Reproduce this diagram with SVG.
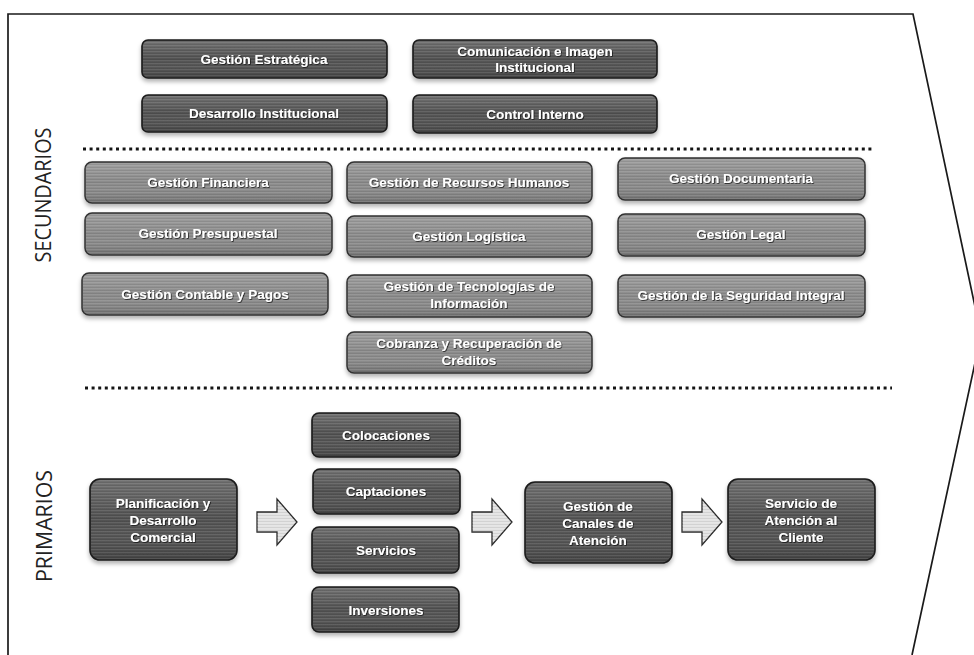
<svg xmlns="http://www.w3.org/2000/svg" width="974" height="655" viewBox="0 0 974 655">
<style>
.bd{fill:#525252;stroke:#1c1c1c;stroke-width:1.6}
.bm{fill:#8b8b8b;stroke:#333;stroke-width:1.5}
.gl{fill:url(#gl);stroke:none}
.tex{fill:url(#tex);stroke:none}
.tx{font-family:"Liberation Sans",Arial,sans-serif;font-weight:bold;font-size:13.5px;fill:#fff;text-anchor:middle;filter:url(#ts)}
.lab{font-family:"Open Sans","Noto Sans",sans-serif;font-size:21px;fill:#222;text-anchor:middle}
.dot{stroke:#151515;stroke-width:3;stroke-dasharray:3 3.6;fill:none}
.frame{fill:none;stroke:#1a1a1a;stroke-width:1.7}
.arr{fill:#e4e4e4;stroke:#2a2a2a;stroke-width:1.3}
.sh{filter:url(#ds)}
</style>
<defs>
<linearGradient id="gl" x1="0" y1="0" x2="0" y2="1">
<stop offset="0" stop-color="#fff" stop-opacity="0.18"/>
<stop offset="0.5" stop-color="#fff" stop-opacity="0"/>
<stop offset="1" stop-color="#000" stop-opacity="0.18"/>
</linearGradient>
<pattern id="tex" patternUnits="userSpaceOnUse" width="6" height="3">
<rect x="0" y="0" width="6" height="1" fill="#fff" opacity="0.09"/>
<rect x="0" y="2" width="6" height="1" fill="#000" opacity="0.08"/>
</pattern>
<filter id="ds" x="-10%" y="-20%" width="120%" height="150%">
<feDropShadow dx="0" dy="3" stdDeviation="2" flood-color="#000" flood-opacity="0.3"/>
</filter>
<filter id="ts" x="-10%" y="-30%" width="120%" height="160%">
<feDropShadow dx="0.8" dy="0.8" stdDeviation="0.6" flood-color="#111" flood-opacity="0.9"/>
</filter>
</defs>
<rect width="974" height="655" fill="#fff"/>
<path class="frame" d="M8,655 L8,14 L913,14 L981,335 L912,655"/>
<text class="lab" transform="translate(44,195) rotate(-90)" y="7" textLength="135" lengthAdjust="spacingAndGlyphs">SECUNDARIOS</text>
<text class="lab" transform="translate(45,526) rotate(-90)" y="7" textLength="112" lengthAdjust="spacingAndGlyphs">PRIMARIOS</text>
<line class="dot" x1="83" y1="149" x2="873" y2="149"/>
<line class="dot" x1="85" y1="388" x2="892" y2="388"/>

<g id="gestion-estrategica" class="sh"><rect class="bd" x="142" y="40" width="245" height="38" rx="6"/><rect class="gl" x="143" y="41" width="243" height="36" rx="5"/><rect class="tex" x="143" y="41" width="243" height="36" rx="5"/><text class="tx" x="264" y="64">Gestión Estratégica</text></g>
<g id="comunicacion" class="sh"><rect class="bd" x="413" y="40" width="244" height="38" rx="6"/><rect class="gl" x="414" y="41" width="242" height="36" rx="5"/><rect class="tex" x="414" y="41" width="242" height="36" rx="5"/><text class="tx" x="535" y="56">Comunicación  e Imagen</text><text class="tx" x="535" y="72">Institucional</text></g>
<g id="desarrollo-institucional" class="sh"><rect class="bd" x="142" y="95" width="245" height="37" rx="6"/><rect class="gl" x="143" y="96" width="243" height="35" rx="5"/><rect class="tex" x="143" y="96" width="243" height="35" rx="5"/><text class="tx" x="264" y="118">Desarrollo Institucional</text></g>
<g id="control-interno" class="sh"><rect class="bd" x="413" y="95" width="244" height="38" rx="6"/><rect class="gl" x="414" y="96" width="242" height="36" rx="5"/><rect class="tex" x="414" y="96" width="242" height="36" rx="5"/><text class="tx" x="535" y="119">Control Interno</text></g>

<g id="gestion-financiera" class="sh"><rect class="bm" x="85" y="162" width="247" height="41" rx="7"/><rect class="gl" x="86" y="163" width="245" height="39" rx="6"/><rect class="tex" x="86" y="163" width="245" height="39" rx="6"/><text class="tx" x="208" y="187">Gestión Financiera</text></g>
<g id="gestion-presupuestal" class="sh"><rect class="bm" x="85" y="213" width="247" height="42" rx="7"/><rect class="gl" x="86" y="214" width="245" height="40" rx="6"/><rect class="tex" x="86" y="214" width="245" height="40" rx="6"/><text class="tx" x="208" y="238">Gestión Presupuestal</text></g>
<g id="gestion-contable" class="sh"><rect class="bm" x="82" y="273" width="246" height="42" rx="7"/><rect class="gl" x="83" y="274" width="244" height="40" rx="6"/><rect class="tex" x="83" y="274" width="244" height="40" rx="6"/><text class="tx" x="205" y="299">Gestión Contable y Pagos</text></g>
<g id="gestion-rrhh" class="sh"><rect class="bm" x="347" y="162" width="245" height="41" rx="7"/><rect class="gl" x="348" y="163" width="243" height="39" rx="6"/><rect class="tex" x="348" y="163" width="243" height="39" rx="6"/><text class="tx" x="469" y="187">Gestión de Recursos Humanos</text></g>
<g id="gestion-logistica" class="sh"><rect class="bm" x="347" y="216" width="245" height="41" rx="7"/><rect class="gl" x="348" y="217" width="243" height="39" rx="6"/><rect class="tex" x="348" y="217" width="243" height="39" rx="6"/><text class="tx" x="469" y="241">Gestión Logística</text></g>
<g id="gestion-ti" class="sh"><rect class="bm" x="347" y="275" width="245" height="42" rx="7"/><rect class="gl" x="348" y="276" width="243" height="40" rx="6"/><rect class="tex" x="348" y="276" width="243" height="40" rx="6"/><text class="tx" x="469" y="291">Gestión de Tecnologías  de</text><text class="tx" x="469" y="308">Información</text></g>
<g id="cobranza" class="sh"><rect class="bm" x="347" y="332" width="245" height="41" rx="7"/><rect class="gl" x="348" y="333" width="243" height="39" rx="6"/><rect class="tex" x="348" y="333" width="243" height="39" rx="6"/><text class="tx" x="469" y="348">Cobranza y Recuperación de</text><text class="tx" x="469" y="365">Créditos</text></g>
<g id="gestion-documentaria" class="sh"><rect class="bm" x="618" y="158" width="247" height="42" rx="7"/><rect class="gl" x="619" y="159" width="245" height="40" rx="6"/><rect class="tex" x="619" y="159" width="245" height="40" rx="6"/><text class="tx" x="741" y="183">Gestión Documentaria</text></g>
<g id="gestion-legal" class="sh"><rect class="bm" x="618" y="214" width="247" height="42" rx="7"/><rect class="gl" x="619" y="215" width="245" height="40" rx="6"/><rect class="tex" x="619" y="215" width="245" height="40" rx="6"/><text class="tx" x="741" y="239">Gestión Legal</text></g>
<g id="gestion-seguridad" class="sh"><rect class="bm" x="618" y="275" width="247" height="42" rx="7"/><rect class="gl" x="619" y="276" width="245" height="40" rx="6"/><rect class="tex" x="619" y="276" width="245" height="40" rx="6"/><text class="tx" x="741" y="300">Gestión de la Seguridad Integral</text></g>

<g id="planificacion" class="sh"><rect class="bd" x="90" y="479" width="147" height="81" rx="10"/><rect class="gl" x="91" y="480" width="145" height="79" rx="9"/><rect class="tex" x="91" y="480" width="145" height="79" rx="9"/><text class="tx" x="163" y="508">Planificación  y</text><text class="tx" x="163" y="525">Desarrollo</text><text class="tx" x="163" y="542">Comercial</text></g>
<g id="colocaciones" class="sh"><rect class="bd" x="312" y="413" width="148" height="44" rx="7"/><rect class="gl" x="313" y="414" width="146" height="42" rx="6"/><rect class="tex" x="313" y="414" width="146" height="42" rx="6"/><text class="tx" x="386" y="440">Colocaciones</text></g>
<g id="captaciones" class="sh"><rect class="bd" x="313" y="469" width="147" height="45" rx="7"/><rect class="gl" x="314" y="470" width="145" height="43" rx="6"/><rect class="tex" x="314" y="470" width="145" height="43" rx="6"/><text class="tx" x="386" y="496">Captaciones</text></g>
<g id="servicios" class="sh"><rect class="bd" x="312" y="527" width="147" height="46" rx="7"/><rect class="gl" x="313" y="528" width="145" height="44" rx="6"/><rect class="tex" x="313" y="528" width="145" height="44" rx="6"/><text class="tx" x="386" y="555">Servicios</text></g>
<g id="inversiones" class="sh"><rect class="bd" x="312" y="587" width="147" height="45" rx="7"/><rect class="gl" x="313" y="588" width="145" height="43" rx="6"/><rect class="tex" x="313" y="588" width="145" height="43" rx="6"/><text class="tx" x="386" y="615">Inversiones</text></g>
<g id="canales" class="sh"><rect class="bd" x="525" y="482" width="147" height="81" rx="10"/><rect class="gl" x="526" y="483" width="145" height="79" rx="9"/><rect class="tex" x="526" y="483" width="145" height="79" rx="9"/><text class="tx" x="598" y="511">Gestión de</text><text class="tx" x="598" y="528">Canales de</text><text class="tx" x="598" y="545">Atención</text></g>
<g id="atencion-cliente" class="sh"><rect class="bd" x="728" y="479" width="147" height="81" rx="10"/><rect class="gl" x="729" y="480" width="145" height="79" rx="9"/><rect class="tex" x="729" y="480" width="145" height="79" rx="9"/><text class="tx" x="801" y="508">Servicio de</text><text class="tx" x="801" y="525">Atención al</text><text class="tx" x="801" y="542">Cliente</text></g>

<g id="connectors">
<path class="arr" d="M257,512 H277 V499 L297,522 L277,545 V532 H257 Z"/>
<path class="tex" d="M257,512 H277 V499 L297,522 L277,545 V532 H257 Z"/>
<path class="arr" d="M472,512 H492 V499 L512,522 L492,545 V532 H472 Z"/>
<path class="tex" d="M472,512 H492 V499 L512,522 L492,545 V532 H472 Z"/>
<path class="arr" d="M682,512 H702 V499 L722,522 L702,545 V532 H682 Z"/>
<path class="tex" d="M682,512 H702 V499 L722,522 L702,545 V532 H682 Z"/>
</g>
</svg>
